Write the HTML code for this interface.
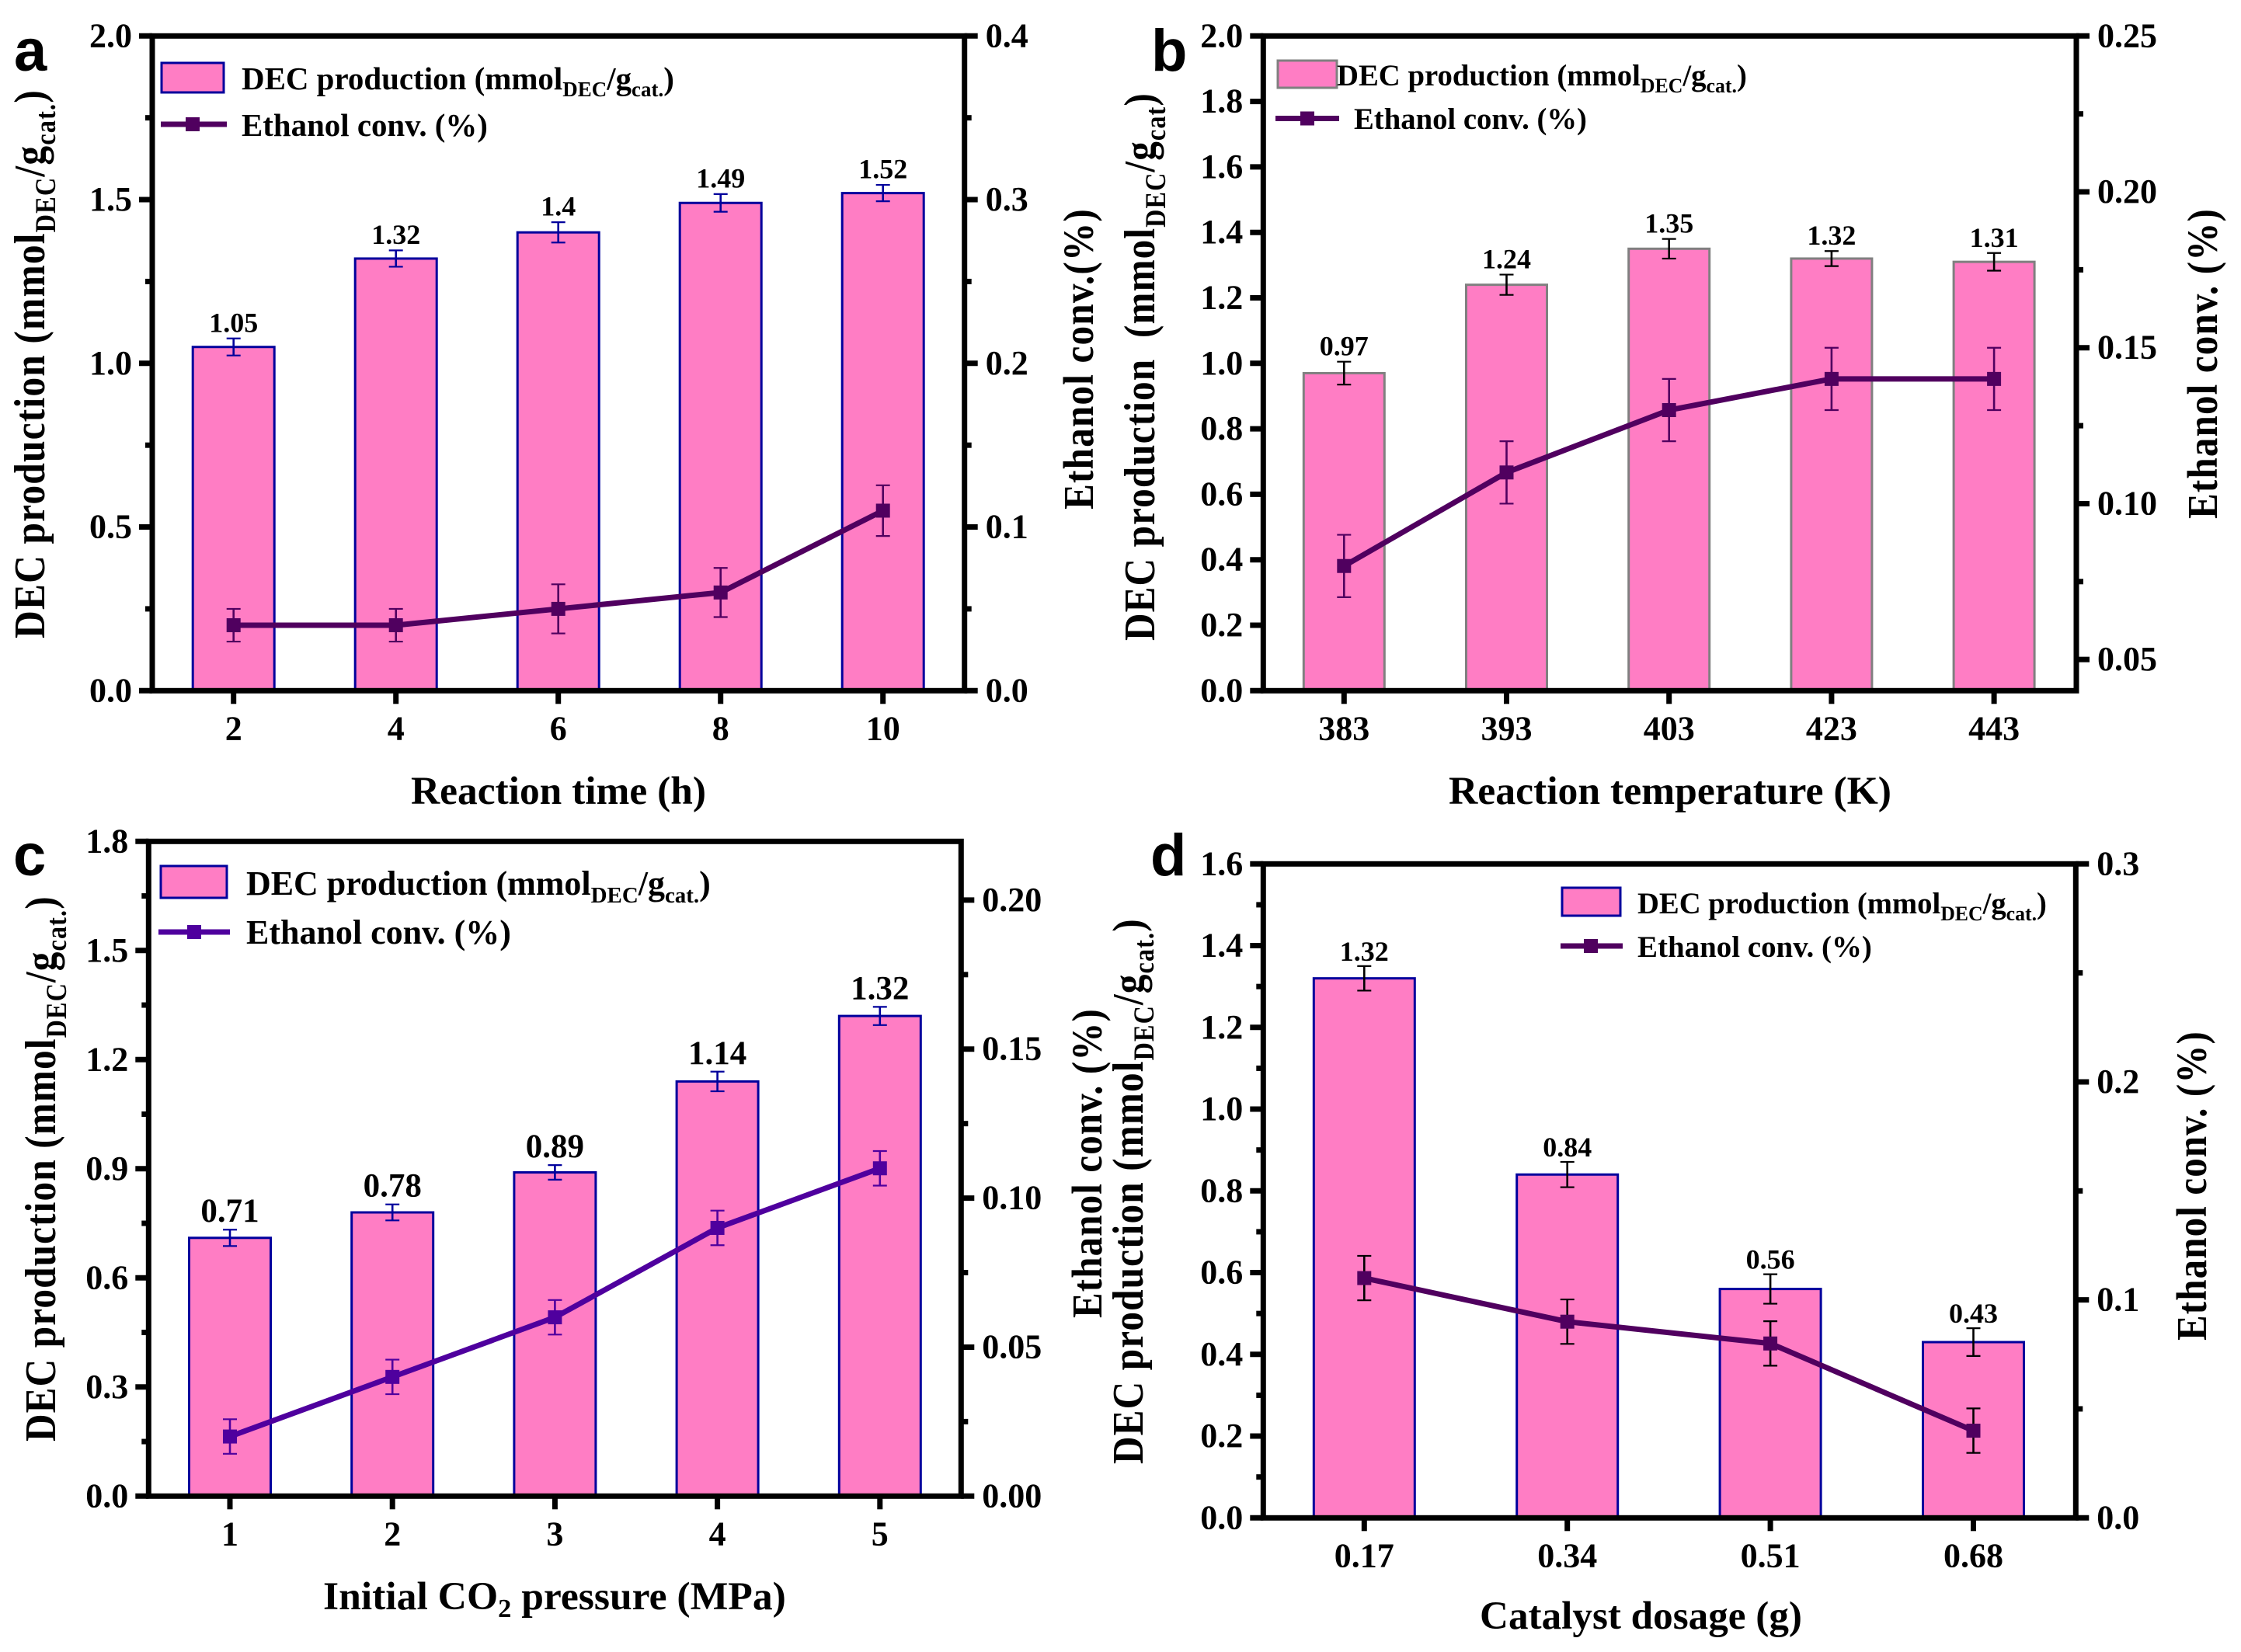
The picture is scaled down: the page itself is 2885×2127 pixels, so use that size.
<!DOCTYPE html>
<html lang="en">
<head>
<meta charset="utf-8">
<title>DEC production and ethanol conversion</title>
<style>
html,body{margin:0;padding:0;background:#fff}
svg{display:block}
text{font-family:"Liberation Serif",serif;font-weight:bold;fill:#000}
.panel-letter{font-family:"Liberation Sans",sans-serif;font-size:76px}
.tick{font-size:44px}
.title{font-size:51px}
.ytitle{letter-spacing:1.2px}
</style>
</head>
<body>
<svg id="figure" xmlns="http://www.w3.org/2000/svg" width="2885" height="2127" viewBox="0 0 2885 2127">
<rect x="0" y="0" width="2885" height="2127" fill="#fff"/>

<g id="panel-a"></g>
<g id="panel-b"></g>
<g id="panel-c"></g>
<g id="panel-d"></g>

<g>
  <text class="panel-letter" x="18" y="91">a</text>
  <text class="title ytitle" style="font-size:52px" data-x="57" data-y="822" data-rot="-90" data-sy="1.08" data-fit="707">DEC production (mmol<tspan font-size="34" dy="13">DEC</tspan><tspan dy="-13">/g</tspan><tspan font-size="34" dy="13">cat.</tspan><tspan dy="-13">)</tspan></text>
  <text class="title ytitle" data-x="1407" data-y="656" data-rot="-90" data-sy="1.08" data-fit="388">Ethanol conv.(%)</text>
  <text class="title" data-x="529" data-y="1035" data-fit="380">Reaction time (h)</text>
  <rect x="208" y="81" width="80" height="38" fill="#ff7dc4" stroke="#00009c" stroke-width="3"/>
  <text style="font-size:41px" data-x="311" data-y="115" data-fit="557">DEC production (mmol<tspan font-size="27" dy="9">DEC</tspan><tspan dy="-9">/g</tspan><tspan font-size="27" dy="9">cat.</tspan><tspan dy="-9">)</tspan></text>
  <line x1="207" y1="160" x2="292" y2="160" stroke="#50005f" stroke-width="7"/>
  <rect x="239" y="151" width="18" height="18" fill="#50005f"/>
  <text style="font-size:41px" data-x="311" data-y="175" data-fit="317">Ethanol conv. (%)</text>
</g>

<g>
  <text class="panel-letter" x="1482" y="91">b</text>
  <text class="title ytitle" style="font-size:52px" data-x="1486" data-y="825" data-rot="-90" data-sy="1.08" data-fit="706" xml:space="preserve">DEC production  (mmol<tspan font-size="34" dy="13">DEC</tspan><tspan dy="-13">/g</tspan><tspan font-size="34" dy="13">cat</tspan><tspan dy="-13">)</tspan></text>
  <text class="title ytitle" data-x="2854" data-y="668" data-rot="-90" data-sy="1.08" data-fit="400">Ethanol conv. (%)</text>
  <text class="title" data-x="1865" data-y="1035" data-fit="570">Reaction temperature (K)</text>
  <rect x="1645" y="78" width="76" height="35" fill="#ff7dc4" stroke="#808080" stroke-width="3"/>
  <text style="font-size:39px" data-x="1721" data-y="110" data-fit="528">DEC production (mmol<tspan font-size="26" dy="9">DEC</tspan><tspan dy="-9">/g</tspan><tspan font-size="26" dy="9">cat.</tspan><tspan dy="-9">)</tspan></text>
  <line x1="1642" y1="152.5" x2="1724" y2="152.5" stroke="#50005f" stroke-width="7"/>
  <rect x="1674" y="143.5" width="18" height="18" fill="#50005f"/>
  <text style="font-size:39px" data-x="1743" data-y="166" data-fit="300">Ethanol conv. (%)</text>
</g>

<g>
  <text class="panel-letter" x="17" y="1127">c</text>
  <text class="title ytitle" style="font-size:52px" data-x="71" data-y="1856" data-rot="-90" data-sy="1.08" data-fit="703">DEC production (mmol<tspan font-size="34" dy="13">DEC</tspan><tspan dy="-13">/g</tspan><tspan font-size="34" dy="13">cat.</tspan><tspan dy="-13">)</tspan></text>
  <text class="title ytitle" data-x="1418" data-y="1697" data-rot="-90" data-sy="1.08" data-fit="399">Ethanol conv. (%)</text>
  <text class="title" data-x="416" data-y="2072" data-fit="596">Initial CO<tspan font-size="34" dy="10">2</tspan><tspan dy="-10"> pressure (MPa)</tspan></text>
  <rect x="207" y="1115" width="85" height="41" fill="#ff7dc4" stroke="#00009c" stroke-width="3"/>
  <text style="font-size:44px" data-x="317" data-y="1152" data-fit="598">DEC production (mmol<tspan font-size="29" dy="10">DEC</tspan><tspan dy="-10">/g</tspan><tspan font-size="29" dy="10">cat.</tspan><tspan dy="-10">)</tspan></text>
  <line x1="204" y1="1200" x2="296" y2="1200" stroke="#4f009e" stroke-width="7"/>
  <rect x="241" y="1191" width="18" height="18" fill="#4f009e"/>
  <text style="font-size:44px" data-x="317" data-y="1215" data-fit="341">Ethanol conv. (%)</text>
</g>

<g>
  <text class="panel-letter" x="1481" y="1127">d</text>
  <text class="title ytitle" style="font-size:52px" data-x="1471" data-y="1885" data-rot="-90" data-sy="1.08" data-fit="703">DEC production (mmol<tspan font-size="34" dy="13">DEC</tspan><tspan dy="-13">/g</tspan><tspan font-size="34" dy="13">cat.</tspan><tspan dy="-13">)</tspan></text>
  <text class="title ytitle" data-x="2840" data-y="1726" data-rot="-90" data-sy="1.08" data-fit="399">Ethanol conv. (%)</text>
  <text class="title" data-x="1905" data-y="2097" data-fit="415">Catalyst dosage (g)</text>
  <rect x="2011" y="1143" width="75" height="36" fill="#ff7dc4" stroke="#00009c" stroke-width="3"/>
  <text style="font-size:39px" data-x="2108" data-y="1176" data-fit="527">DEC production (mmol<tspan font-size="26" dy="9">DEC</tspan><tspan dy="-9">/g</tspan><tspan font-size="26" dy="9">cat.</tspan><tspan dy="-9">)</tspan></text>
  <line x1="2009" y1="1218" x2="2089" y2="1218" stroke="#50005f" stroke-width="7"/>
  <rect x="2039" y="1209" width="18" height="18" fill="#50005f"/>
  <text style="font-size:39px" data-x="2108" data-y="1232" data-fit="302">Ethanol conv. (%)</text>
</g>
</svg>

<script>
// ---- Panel a data ----
const aCategories = ["2", "4", "6", "8", "10"];
const aProduction = [1.05, 1.32, 1.4, 1.49, 1.52];
const aProductionErr = [0.026, 0.025, 0.031, 0.027, 0.025];
const aConversion = [0.04, 0.04, 0.05, 0.06, 0.11];
const aConversionErr = [0.01, 0.01, 0.015, 0.015, 0.0155];
const aLeftTicks = ["0.0", "0.5", "1.0", "1.5", "2.0"];
const aLeftMinor = [0.25, 0.75, 1.25, 1.75];
const aRightTicks = ["0.0", "0.1", "0.2", "0.3", "0.4"];
const aRightMinor = [0.05, 0.15, 0.25, 0.35];

// ---- Panel b data ----
const bCategories = ["383", "393", "403", "423", "443"];
const bProduction = [0.97, 1.24, 1.35, 1.32, 1.31];
const bProductionErr = [0.035, 0.031, 0.03, 0.023, 0.027];
const bConversion = [0.08, 0.11, 0.13, 0.14, 0.14];
const bConversionErr = [0.01, 0.01, 0.01, 0.01, 0.01];
const bLeftTicks = ["0.0", "0.2", "0.4", "0.6", "0.8", "1.0", "1.2", "1.4", "1.6", "1.8", "2.0"];
const bLeftMinor = [];
const bRightTicks = ["0.05", "0.10", "0.15", "0.20", "0.25"];
const bRightMinor = [0.075, 0.125, 0.175, 0.225];

// ---- Panel c data ----
const cCategories = ["1", "2", "3", "4", "5"];
const cProduction = [0.71, 0.78, 0.89, 1.14, 1.32];
const cProductionErr = [0.0225, 0.022, 0.02, 0.027, 0.025];
const cConversion = [0.02, 0.04, 0.06, 0.09, 0.11];
const cConversionErr = [0.0058, 0.0058, 0.0058, 0.0058, 0.0058];
const cLeftTicks = ["0.0", "0.3", "0.6", "0.9", "1.2", "1.5", "1.8"];
const cLeftMinor = [0.15, 0.45, 0.75, 1.05, 1.35, 1.65];
const cRightTicks = ["0.00", "0.05", "0.10", "0.15", "0.20"];
const cRightMinor = [0.025, 0.075, 0.125, 0.175];

// ---- Panel d data ----
const dCategories = ["0.17", "0.34", "0.51", "0.68"];
const dProduction = [1.32, 0.84, 0.56, 0.43];
const dProductionErr = [0.03, 0.031, 0.036, 0.034];
const dConversion = [0.11, 0.09, 0.08, 0.04];
const dConversionErr = [0.0102, 0.0102, 0.0102, 0.0102];
const dLeftTicks = ["0.0", "0.2", "0.4", "0.6", "0.8", "1.0", "1.2", "1.4", "1.6"];
const dLeftMinor = [0.1, 0.3, 0.5, 0.7, 0.9, 1.1, 1.3, 1.5];
const dRightTicks = ["0.0", "0.1", "0.2", "0.3"];
const dRightMinor = [0.05, 0.15, 0.25];

const SVG_NS = "http://www.w3.org/2000/svg";

function make(tag, parent, attrs) {
  const el = document.createElementNS(SVG_NS, tag);
  for (const k in attrs) el.setAttribute(k, attrs[k]);
  parent.appendChild(el);
  return el;
}

function drawPanel(id, frame, style, data) {
  const root = document.getElementById(id);
  const scaleLeft = v => frame.bottom - (v - frame.leftMin) / (frame.leftMax - frame.leftMin) * (frame.bottom - frame.top);
  const scaleRight = v => frame.bottom - (v - frame.rightMin) / (frame.rightMax - frame.rightMin) * (frame.bottom - frame.top);
  const scaleX = i => frame.firstX + i * frame.stepX;

  // bars
  data.production.forEach((v, i) => {
    const y = scaleLeft(v);
    const bar = make("rect", root, {x: scaleX(i) - frame.barWidth / 2, y: y, width: frame.barWidth, height: frame.bottom - y, fill: "#ff7dc4", stroke: style.barStroke, "stroke-width": 3});
    
    
  });

  // bar error bars and value labels
  data.production.forEach((v, i) => {
    const x = scaleX(i);
    const hi = scaleLeft(v + data.productionErr[i]);
    const lo = scaleLeft(v - data.productionErr[i]);
    const stem = make("line", root, {x1: x, x2: x, y1: hi, y2: lo, stroke: style.barErr, "stroke-width": 2.6});
    
    
    [hi, lo].forEach(y => {
      const cap = make("line", root, {x1: x - 9, x2: x + 9, y1: y, y2: y, stroke: style.barErr, "stroke-width": 2.2});
      
      
    });
    const label = make("text", root, {x: x, y: hi - style.valueGap, "text-anchor": "middle", style: "font-size:" + style.valueSize + "px"});
    
    
    label.textContent = String(v);
  });

  // conversion line
  const path = make("polyline", root, {
    points: data.conversion.map((v, i) => scaleX(i) + "," + scaleRight(v)).join(" "),
    fill: "none", stroke: style.line, "stroke-width": 7, "stroke-linejoin": "round"
  });
  
  

  // conversion error bars and markers
  data.conversion.forEach((v, i) => {
    const x = scaleX(i);
    const hi = scaleRight(v + data.conversionErr[i]);
    const lo = scaleRight(v - data.conversionErr[i]);
    const stem = make("line", root, {x1: x, x2: x, y1: hi, y2: lo, stroke: style.lineErr, "stroke-width": 2.6});
    
    
    [hi, lo].forEach(y => {
      const cap = make("line", root, {x1: x - 9, x2: x + 9, y1: y, y2: y, stroke: style.lineErr, "stroke-width": 2.2});
      
      
    });
    const marker = make("rect", root, {x: x - 9, y: scaleRight(v) - 9, width: 18, height: 18, fill: style.line});
    
    
  });

  // plot frame
  const box = make("rect", root, {x: frame.left, y: frame.top, width: frame.right - frame.left, height: frame.bottom - frame.top, fill: "none", stroke: "#000", "stroke-width": 7});
  
  

  // category ticks and labels
  data.categories.forEach((c, i) => {
    const x = scaleX(i);
    const tick = make("line", root, {x1: x, x2: x, y1: frame.bottom, y2: frame.bottom + 17, stroke: "#000", "stroke-width": 7});
    
    
    const label = make("text", root, {class: "tick", x: x, y: frame.bottom + 63, "text-anchor": "middle"});
    
    
    label.textContent = c;
  });

  // left axis ticks
  data.leftTicks.forEach(t => {
    const y = scaleLeft(parseFloat(t));
    const tick = make("line", root, {x1: frame.left - 17, x2: frame.left, y1: y, y2: y, stroke: "#000", "stroke-width": 7});
    
    
    const label = make("text", root, {class: "tick", x: frame.left - 26, y: y + 14, "text-anchor": "end"});
    
    
    label.textContent = t;
  });
  data.leftMinor.forEach(v => {
    const y = scaleLeft(v);
    const tick = make("line", root, {x1: frame.left - 9, x2: frame.left, y1: y, y2: y, stroke: "#000", "stroke-width": 7});
    
    
  });

  // right axis ticks
  data.rightTicks.forEach(t => {
    const y = scaleRight(parseFloat(t));
    const tick = make("line", root, {x1: frame.right, x2: frame.right + 17, y1: y, y2: y, stroke: "#000", "stroke-width": 7});
    
    
    const label = make("text", root, {class: "tick", x: frame.right + 27, y: y + 14, "text-anchor": "start"});
    
    
    label.textContent = t;
  });
  data.rightMinor.forEach(v => {
    const y = scaleRight(v);
    const tick = make("line", root, {x1: frame.right, x2: frame.right + 9, y1: y, y2: y, stroke: "#000", "stroke-width": 7});
    
    
  });
}

drawPanel("panel-a",
  {left: 196, right: 1241.7, top: 46.3, bottom: 889.3, firstX: 300.7, stepX: 209, barWidth: 105, leftMin: 0, leftMax: 2, rightMin: 0, rightMax: 0.4},
  {barStroke: "#00009c", barErr: "#00009c", line: "#50005f", lineErr: "#50005f", valueSize: 36, valueGap: 8.5},
  {categories: aCategories, production: aProduction, productionErr: aProductionErr, conversion: aConversion, conversionErr: aConversionErr, leftTicks: aLeftTicks, leftMinor: aLeftMinor, rightTicks: aRightTicks, rightMinor: aRightMinor});

drawPanel("panel-b",
  {left: 1626.3, right: 2673, top: 46.3, bottom: 889.3, firstX: 1730.3, stepX: 209.2, barWidth: 104, leftMin: 0, leftMax: 2, rightMin: 0.04, rightMax: 0.25},
  {barStroke: "#808080", barErr: "#000", line: "#50005f", lineErr: "#50005f", valueSize: 36, valueGap: 8},
  {categories: bCategories, production: bProduction, productionErr: bProductionErr, conversion: bConversion, conversionErr: bConversionErr, leftTicks: bLeftTicks, leftMinor: bLeftMinor, rightTicks: bRightTicks, rightMinor: bRightMinor});

drawPanel("panel-c",
  {left: 191.3, right: 1237.3, top: 1083.3, bottom: 1926.3, firstX: 296, stepX: 209.2, barWidth: 105, leftMin: 0, leftMax: 1.8, rightMin: 0, rightMax: 0.2197},
  {barStroke: "#00009c", barErr: "#00009c", line: "#4f009e", lineErr: "#4f009e", valueSize: 43, valueGap: 10},
  {categories: cCategories, production: cProduction, productionErr: cProductionErr, conversion: cConversion, conversionErr: cConversionErr, leftTicks: cLeftTicks, leftMinor: cLeftMinor, rightTicks: cRightTicks, rightMinor: cRightMinor});

drawPanel("panel-d",
  {left: 1626.3, right: 2672.3, top: 1112.3, bottom: 1954.3, firstX: 1756.3, stepX: 261.4, barWidth: 130, leftMin: 0, leftMax: 1.6, rightMin: 0, rightMax: 0.3},
  {barStroke: "#00009c", barErr: "#000", line: "#50005f", lineErr: "#000", valueSize: 36, valueGap: 7},
  {categories: dCategories, production: dProduction, productionErr: dProductionErr, conversion: dConversion, conversionErr: dConversionErr, leftTicks: dLeftTicks, leftMinor: dLeftMinor, rightTicks: dRightTicks, rightMinor: dRightMinor});

// Fit titles and legend labels to their measured widths
document.querySelectorAll("text[data-fit]").forEach(t => {
  const target = parseFloat(t.getAttribute("data-fit"));
  const measured = t.getComputedTextLength();
  const sx = measured > 0 ? target / measured : 1;
  const sy = parseFloat(t.getAttribute("data-sy") || "1");
  const rot = parseFloat(t.getAttribute("data-rot") || "0");
  const x = t.getAttribute("data-x");
  const y = t.getAttribute("data-y");
  t.setAttribute("transform", "translate(" + x + " " + y + ") rotate(" + rot + ") scale(" + sx + " " + sy + ")");
});
</script>
</body>
</html>
